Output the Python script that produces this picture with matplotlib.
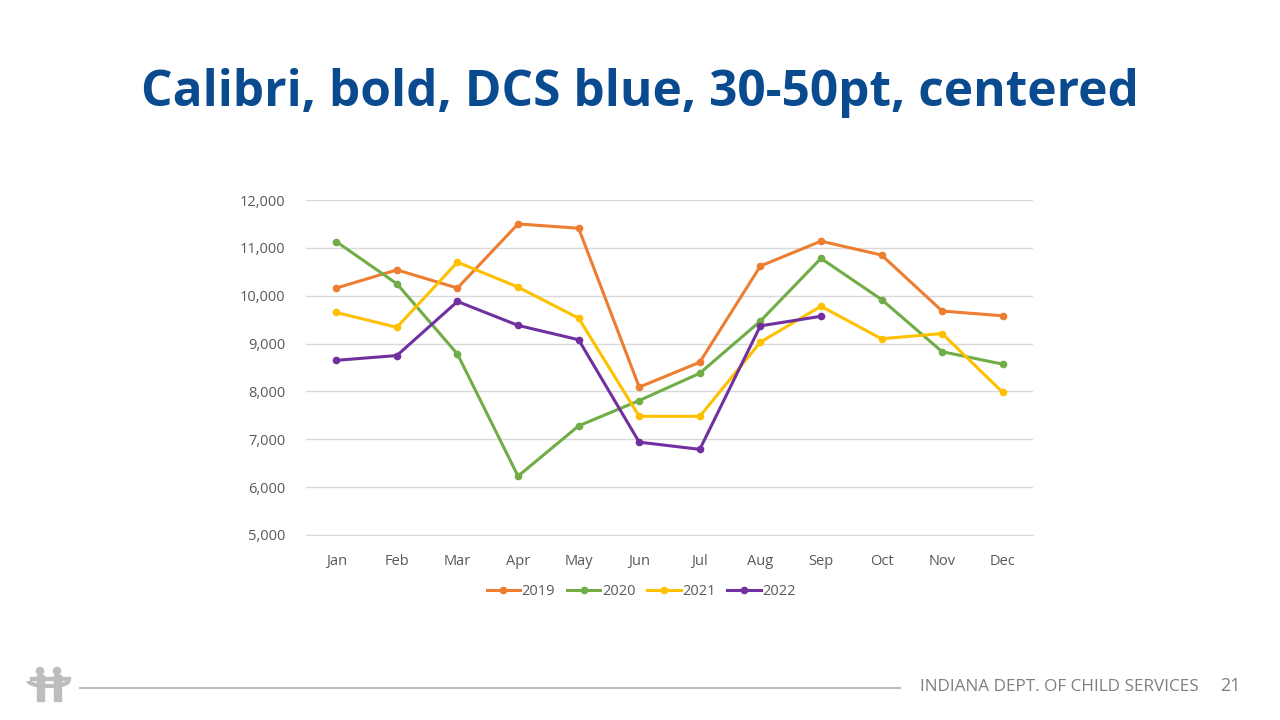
import matplotlib
matplotlib.use('Agg')
import matplotlib.pyplot as plt
from matplotlib.patches import Circle, Rectangle, Arc

months = ['Jan', 'Feb', 'Mar', 'Apr', 'May', 'Jun',
          'Jul', 'Aug', 'Sep', 'Oct', 'Nov', 'Dec']
y2019 = [10160, 10540, 10160, 11500, 11410, 8090, 8610, 10620, 11140, 10850, 9680, 9580]
y2020 = [11130, 10250, 8780, 6230, 7280, 7810, 8380, 9470, 10780, 9920, 8830, 8570]
y2021 = [9650, 9340, 10700, 10180, 9530, 7480, 7480, 9030, 9780, 9100, 9210, 7980]
y2022 = [8650, 8750, 9880, 9380, 9080, 6940, 6790, 9370, 9570]
series_names = ['2019', '2020', '2021', '2022']
series_colors = ['#ED7D31', '#70AD47', '#FFC000', '#7030A0']
y_ticks = [5000, 6000, 7000, 8000, 9000, 10000, 11000, 12000]

plt.rcParams['font.family'] = ['Open Sans', 'DejaVu Sans']

fig = plt.figure(figsize=(12.8, 7.2), dpi=100)
fig.patch.set_facecolor('white')

# title
fig.text(0.5, 1 - 93 / 720, 'Calibri, bold, DCS blue, 30-50pt, centered',
         ha='center', va='center', fontsize=35.7, fontweight='bold',
         color='#0A4A8F')

# chart area: x 306..1033, y 200..535 px
ax = fig.add_axes([306 / 1280, 1 - 535 / 720, 727 / 1280, 335 / 720])
x = list(range(len(months)))
for name, vals, col in zip(series_names, [y2019, y2020, y2021, y2022], series_colors):
    ax.plot(x[:len(vals)], vals, color=col, lw=2.2, marker='o', ms=4.5,
            label=name, solid_joinstyle='round')

ax.set_xlim(-0.5, 11.5)
ax.set_ylim(5000, 12000)
ax.set_yticks(y_ticks)
ax.set_yticklabels([f'{v:,}' for v in y_ticks])
ax.set_xticks(x)
ax.set_xticklabels(months)
ax.grid(axis='y', color='#D9D9D9', lw=1)
ax.set_axisbelow(True)
for s in ['top', 'right', 'left']:
    ax.spines[s].set_visible(False)
ax.spines['bottom'].set_color('#D9D9D9')
ax.tick_params(length=0, colors='#595959', labelsize=10.5)
ax.tick_params(axis='x', pad=14)
ax.tick_params(axis='y', pad=15)

ax.legend(loc='upper center', bbox_to_anchor=(0.461, -0.108), ncol=4,
          frameon=False, fontsize=10.5, labelcolor='#595959',
          handlelength=2.3, handletextpad=0.1, columnspacing=0.8)

# footer line and text
fig.add_artist(plt.Line2D([80 / 1280, 900 / 1280], [1 - 688 / 720] * 2,
                          color='#BFBFBF', lw=1.5))
fig.text(920 / 1280, 1 - 687 / 720, 'INDIANA DEPT. OF CHILD SERVICES',
         ha='left', va='center', fontsize=12.3, color='#7F7F7F')
fig.text(1241 / 1280, 1 - 686 / 720, '21', ha='right', va='center',
         fontsize=13, color='#7F7F7F')

# simple logo: two figures holding hands
logo = fig.add_axes([26 / 1280, 1 - 705 / 720, 48 / 1280, 40 / 720])
logo.set_xlim(0, 48)
logo.set_ylim(0, 40)
logo.axis('off')
gray = '#BDBDBD'
for cx in (14, 31):
    logo.add_patch(Circle((cx, 34), 3.6, color=gray))
    logo.add_patch(Rectangle((cx - 3.5, 4), 7, 26, color=gray))
logo.add_patch(Arc((22.5, 24), 40, 10, theta1=180, theta2=360, color=gray, lw=3))
logo.add_patch(Rectangle((4, 25), 40, 3, color=gray))

fig.savefig('out.png', dpi=100, facecolor='white')
